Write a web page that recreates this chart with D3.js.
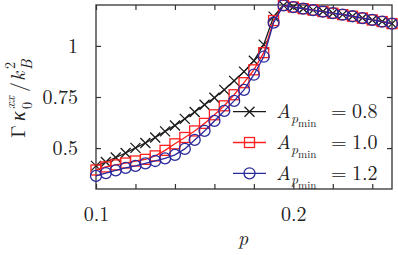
<!DOCTYPE html>
<html>
<head>
<meta charset="utf-8">
<script src="https://cdn.jsdelivr.net/npm/d3@7"></script>
<style>
  body { margin: 0; background: #fff; }
</style>
</head>
<body>
<div id="chart"></div>
<script>
// data
const pValues = [0.100, 0.105, 0.110, 0.115, 0.120, 0.125, 0.130, 0.135, 0.140, 0.145,
                 0.150, 0.155, 0.160, 0.165, 0.170, 0.175, 0.180, 0.185, 0.190, 0.195,
                 0.200, 0.205, 0.210, 0.215, 0.220, 0.225, 0.230, 0.235, 0.240, 0.245, 0.250];
const kappaA08 = [0.413, 0.432, 0.454, 0.476, 0.501, 0.525, 0.552, 0.582, 0.611, 0.643,
                  0.677, 0.712, 0.746, 0.785, 0.829, 0.874, 0.927, 1.006, 1.143, 1.198,
                  1.190, 1.182, 1.175, 1.168, 1.160, 1.153, 1.145, 1.136, 1.127, 1.119, 1.109];
const kappaA10 = [0.393, 0.408, 0.418, 0.427, 0.437, 0.445, 0.462, 0.489, 0.521, 0.552,
                  0.584, 0.621, 0.663, 0.707, 0.761, 0.820, 0.883, 0.967, 1.124, 1.198,
                  1.190, 1.182, 1.175, 1.168, 1.160, 1.153, 1.145, 1.136, 1.127, 1.119, 1.109];
const kappaA12 = [0.364, 0.378, 0.391, 0.403, 0.413, 0.425, 0.437, 0.450, 0.467, 0.496,
                  0.540, 0.584, 0.633, 0.682, 0.731, 0.785, 0.859, 0.947, 1.114, 1.198,
                  1.190, 1.182, 1.175, 1.168, 1.160, 1.153, 1.145, 1.136, 1.127, 1.119, 1.109];
const legendValues = ["0.8", "1.0", "1.2"];
const xTicks = [0.10, 0.12, 0.14, 0.16, 0.18, 0.20, 0.22, 0.24];
const xTickLabels = ["0.1", "", "", "", "", "0.2", "", ""];
const yTicks = [0.5, 0.75, 1];
const yTickLabels = ["0.5", "0.75", "1"];

const serif = "'Latin Modern Roman', 'Liberation Serif', serif";

// set the dimensions and margins of the graph
const margin = { top: 5, right: 6, bottom: 66, left: 96 },
    width = 398 - margin.left - margin.right,
    height = 255 - margin.top - margin.bottom;

const root = d3.select("#chart")
    .append("svg")
    .attr("width", 398)
    .attr("height", 255)
    .style("font-family", serif);

const svg = root.append("g")
    .attr("transform", "translate(" + margin.left + "," + margin.top + ")");

const x = d3.scaleLinear().domain([0.1, 0.25]).range([0, width]);
const y = d3.scaleLinear().domain([0.3, 1.2]).range([height, 0]);

const frameColor = "#333";

// ticks on all four sides, pointing inwards
svg.append("g")
    .attr("transform", "translate(0," + height + ")")
    .call(d3.axisBottom(x).tickValues(xTicks).tickSizeInner(-5).tickSizeOuter(0)
        .tickFormat((d, i) => xTickLabels[i]))
    .call(g => g.select(".domain").remove())
    .call(g => g.attr("font-family", null))
    .call(g => g.selectAll("line").attr("stroke", frameColor).attr("stroke-width", 1.2))
    .call(g => g.selectAll("text").attr("y", 32).attr("dy", 0)
        .style("font-family", serif)
        .style("font-size", "20px").attr("fill", "#222"));

svg.append("g")
    .call(d3.axisTop(x).tickValues(xTicks).tickSizeInner(-5).tickSizeOuter(0).tickFormat(""))
    .call(g => g.select(".domain").remove())
    .call(g => g.selectAll("line").attr("stroke", frameColor).attr("stroke-width", 1.2));

svg.append("g")
    .call(d3.axisLeft(y).tickValues(yTicks).tickSizeInner(-5).tickSizeOuter(0)
        .tickFormat((d, i) => yTickLabels[i]))
    .call(g => g.select(".domain").remove())
    .call(g => g.attr("font-family", null))
    .call(g => g.selectAll("line").attr("stroke", frameColor).attr("stroke-width", 1.2))
    .call(g => g.selectAll("text").attr("x", -18).attr("dy", 6.5)
        .style("font-family", serif)
        .style("font-size", "20px").attr("fill", "#222"));

svg.append("g")
    .attr("transform", "translate(" + width + ",0)")
    .call(d3.axisRight(y).tickValues(yTicks).tickSizeInner(-5).tickSizeOuter(0).tickFormat(""))
    .call(g => g.select(".domain").remove())
    .call(g => g.selectAll("line").attr("stroke", frameColor).attr("stroke-width", 1.2));

svg.append("rect")
    .attr("width", width)
    .attr("height", height)
    .attr("fill", "none")
    .attr("stroke", frameColor)
    .attr("stroke-width", 1.3);

// marker shapes
function drawMarker(g, kind, color) {
    if (kind === "cross") {
        g.append("path").attr("d", "M-5,-5L5,5M-5,5L5,-5")
            .attr("stroke", color).attr("stroke-width", 1.3).attr("fill", "none");
    } else if (kind === "square") {
        g.append("rect").attr("x", -5).attr("y", -5).attr("width", 10).attr("height", 10)
            .attr("stroke", color).attr("stroke-width", 1.3).attr("fill", "none");
    } else {
        g.append("circle").attr("r", 5.5)
            .attr("stroke", color).attr("stroke-width", 1.3).attr("fill", "none");
    }
}

const series = [
    { values: kappaA08, color: "#1a1a1a", marker: "cross" },
    { values: kappaA10, color: "#ff2020", marker: "square" },
    { values: kappaA12, color: "#2a2a9c", marker: "circle" }
];

series.forEach(s => {
    const pts = pValues.map((p, i) => [p, s.values[i]]);
    svg.append("path")
        .datum(pts)
        .attr("fill", "none")
        .attr("stroke", s.color)
        .attr("stroke-width", 1.3)
        .attr("d", d3.line().x(d => x(d[0])).y(d => y(d[1])));
    svg.append("g").selectAll("g")
        .data(pts)
        .join("g")
        .attr("transform", d => "translate(" + x(d[0]) + "," + y(d[1]) + ")")
        .each(function () { drawMarker(d3.select(this), s.marker, s.color); });
});

// legend
const legend = root.append("g");
series.forEach((s, i) => {
    const ly = 111.7 + i * 30.8;
    legend.append("line")
        .attr("x1", 233).attr("x2", 266).attr("y1", ly).attr("y2", ly)
        .attr("stroke", s.color).attr("stroke-width", 1.3);
    drawMarker(legend.append("g").attr("transform", "translate(249.5," + ly + ")"), s.marker, s.color);
    const t = legend.append("text").attr("y", ly + 6.5)
        .style("font-family", serif).style("font-size", "20px").attr("fill", "#222");
    t.append("tspan").attr("x", 276).style("font-style", "italic").text("A");
    t.append("tspan").attr("x", 291).attr("y", ly + 11).style("font-size", "14px")
        .style("font-style", "italic").text("p");
    t.append("tspan").attr("x", 298).attr("y", ly + 15.5).style("font-size", "11px").text("min");
    t.append("tspan").attr("x", 331).attr("y", ly + 6.5).text("=");
    t.append("tspan").attr("x", 352).text(legendValues[i]);
});

// axis titles
root.append("text")
    .attr("x", 243).attr("y", 245)
    .attr("text-anchor", "middle")
    .attr("fill", "#222")
    .style("font-family", serif)
    .style("font-size", "20px").style("font-style", "italic")
    .text("p");

const ylab = root.append("text")
    .attr("transform", "translate(25,138) rotate(-90)")
    .attr("fill", "#222")
    .style("font-family", serif)
    .style("font-size", "20px");
ylab.append("tspan").attr("x", 0).attr("y", 0).text("Γ");
ylab.append("tspan").attr("x", 17).attr("y", 0)
    .style("font-family", "'Liberation Serif', serif").style("font-style", "italic").text("κ");
ylab.append("tspan").attr("x", 29).attr("y", 7).style("font-size", "14px").text("0");
ylab.append("tspan").attr("x", 29).attr("y", -10).style("font-size", "14px").style("font-style", "italic").text("xx");
ylab.append("tspan").attr("x", 46).attr("y", 0).text("/");
ylab.append("tspan").attr("x", 57).attr("y", 0).style("font-style", "italic").text("k");
ylab.append("tspan").attr("x", 68).attr("y", 7).style("font-size", "15px").style("font-style", "italic").text("B");
ylab.append("tspan").attr("x", 69).attr("y", -10).style("font-size", "14px").text("2");
</script>
</body>
</html>
